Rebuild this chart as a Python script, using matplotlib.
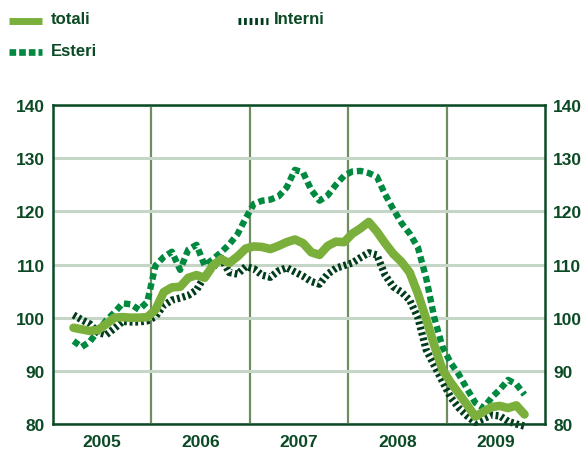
import matplotlib
matplotlib.use("Agg")
import matplotlib.pyplot as plt
from matplotlib.lines import Line2D
import numpy as np

# mesi da marzo 2005 (m=2) a ottobre 2009 (m=57)
mesi = np.arange(2, 58)

totali = [98.1, 97.8, 97.5, 97.7, 98.8, 100.0, 100.1, 100.0, 100.0, 100.1,
          101.5, 104.8, 105.7, 105.8, 107.5, 108.0, 107.5, 109.8, 111.0, 110.3,
          111.5, 113.0, 113.4, 113.3, 112.9, 113.5, 114.2, 114.7, 114.0, 112.3,
          111.8, 113.5, 114.3, 114.2, 115.8, 116.8, 118.0, 116.2, 114.0, 112.0,
          110.5, 108.5, 104.5, 99.8, 94.8, 90.2, 87.8, 85.7, 83.6, 81.4,
          82.3, 83.2, 83.4, 83.0, 83.5, 81.8]

esteri = [95.6, 94.5, 95.5, 97.5, 99.5, 101.0, 102.7, 102.5, 101.5, 103.0,
          109.8, 111.4, 112.4, 109.0, 112.8, 113.7, 109.8, 111.0, 112.3, 113.8,
          115.7, 118.7, 121.4, 122.0, 122.2, 122.8, 124.5, 127.8, 127.3, 124.0,
          122.0, 123.0, 125.0, 126.7, 127.5, 127.6, 127.2, 126.5, 123.2, 120.4,
          117.8, 115.8, 113.2, 107.5, 100.0, 94.5, 91.5, 89.3, 86.6, 84.0,
          83.0, 85.0, 86.5, 88.3, 87.5, 85.5]

interni = [100.5, 99.6, 98.8, 97.2, 96.8, 98.0, 99.3, 99.2, 99.2, 99.4,
           100.2, 102.3, 103.3, 103.7, 104.2, 105.2, 107.8, 109.5, 111.2, 108.5,
           108.2, 109.6, 109.2, 108.0, 107.6, 108.8, 109.4, 108.6, 107.8, 106.8,
           106.3, 108.2, 109.3, 109.8, 110.3, 111.3, 112.2, 111.8, 108.0, 105.8,
           104.8, 103.3, 100.0, 94.0, 91.0, 88.0, 85.0, 83.0, 81.5, 80.3,
           81.0, 81.7, 81.5, 80.5, 80.0, 79.6]

anni = [2005, 2006, 2007, 2008, 2009]
yticks = [80, 90, 100, 110, 120, 130, 140]

c_tot = "#7BAF3C"
c_est = "#00893F"
c_int = "#003C1C"
c_txt = "#0B4A24"

x = 2005 + (mesi + 0.5) / 12

fig = plt.figure(figsize=(5.84, 4.52), dpi=100)
ax = fig.add_axes([53 / 584, 1 - 425 / 452, 492 / 584, 319 / 452])

ax.plot(x, interni, color=c_int, lw=5.3, linestyle=(0, (0.38, 0.38)),
        dash_capstyle="butt", clip_on=False, zorder=3)
ax.plot(x, esteri, color=c_est, lw=4.6, linestyle=(0, (1.0, 0.6)),
        dash_capstyle="butt", clip_on=False, zorder=4)
ax.plot(x, totali, color=c_tot, lw=6.2, solid_capstyle="round",
        solid_joinstyle="round", clip_on=False, zorder=5)

ax.set_xlim(2005, 2010)
ax.set_ylim(80, 140)
ax.set_yticks(yticks)
ax.set_xticks([a + 0.5 for a in anni])
ax.set_xticklabels([str(a) for a in anni])
ax.set_xticks([2006, 2007, 2008, 2009], minor=True)

ax.grid(axis="y", which="major", color="#C6D6C6", lw=2.2, zorder=1)
ax.grid(axis="x", which="minor", color="#6F8D5E", lw=1.6, zorder=1)
ax.tick_params(axis="both", which="both", length=0)
ax.tick_params(axis="y", pad=6, labelright=True, right=False)
ax.tick_params(axis="x", pad=7)
for lab in ax.get_xticklabels() + ax.get_yticklabels():
    lab.set_fontfamily(["Liberation Sans", "DejaVu Sans"])
    lab.set_fontweight("bold")
    lab.set_fontsize(12.5)
    lab.set_color(c_txt)
for t in ax.yaxis.get_major_ticks():
    t.label2.set_fontfamily(["Liberation Sans", "DejaVu Sans"])
    t.label2.set_fontweight("bold")
    t.label2.set_fontsize(12.5)
    t.label2.set_color(c_txt)

for s in ax.spines.values():
    s.set_color(c_txt)
    s.set_linewidth(1.8)
    s.set_zorder(6)

# legenda
def px(xp, yp):
    return xp / 584, 1 - yp / 452

fig.add_artist(Line2D([px(9, 0)[0], px(42, 0)[0]], [px(0, 22)[1]] * 2,
                      color=c_tot, lw=5, solid_capstyle="butt"))
fig.add_artist(Line2D([px(9, 0)[0], px(42, 0)[0]], [px(0, 53)[1]] * 2,
                      color=c_est, lw=4.8, linestyle=(0, (1.0, 0.45)), dash_capstyle="butt"))
fig.add_artist(Line2D([px(238, 0)[0], px(268, 0)[0]], [px(0, 22)[1]] * 2,
                      color=c_int, lw=5, linestyle=(0, (0.4, 0.4)), dash_capstyle="butt"))

font_leg = dict(family=["Liberation Sans", "DejaVu Sans"], fontweight="bold",
                fontsize=12, color=c_txt, va="center", ha="left")
fig.text(*px(51, 20), "totali", **font_leg)
fig.text(*px(51, 52), "Esteri", **font_leg)
fig.text(*px(274, 20), "Interni", **font_leg)

plt.savefig("out.png", dpi=100)
